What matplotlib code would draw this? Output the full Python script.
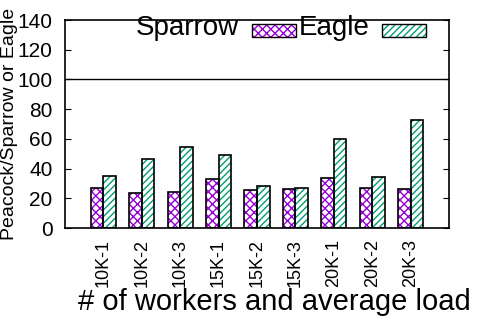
import matplotlib
matplotlib.use("Agg")
import matplotlib.pyplot as plt
import numpy as np
from matplotlib.patches import Rectangle
from matplotlib.legend_handler import HandlerBase

plt.rcParams['font.family'] = ['Liberation Sans', 'DejaVu Sans']
plt.rcParams['hatch.linewidth'] = 1.0

labels = ["10K-1", "10K-2", "10K-3", "15K-1", "15K-2", "15K-3", "20K-1", "20K-2", "20K-3"]
sparrow = [26.9, 23.5, 24.2, 33.0, 25.6, 26.2, 33.6, 26.9, 26.2]
eagle = [35.0, 46.4, 54.5, 49.1, 28.3, 26.9, 59.9, 34.3, 72.7]

purple = "#9400d3"
green = "#009e73"


class SwatchHandler(HandlerBase):
    # gnuplot-like key sample: hatched box sitting low, near the baseline
    def create_artists(self, legend, orig_handle, xdescent, ydescent,
                       width, height, fontsize, trans):
        hatch, color = orig_handle
        y0 = -ydescent - 4
        r1 = Rectangle((-xdescent, y0), width, height, facecolor="none",
                       edgecolor=color, hatch=hatch, linewidth=0, transform=trans)
        r2 = Rectangle((-xdescent, y0), width, height, facecolor="none",
                       edgecolor="black", linewidth=1, transform=trans)
        return [r1, r2]


fig = plt.figure(figsize=(4.8, 3.2), dpi=100)
ax = fig.add_axes([65/480, 1-228/320, 384/480, 208/320])

x = np.arange(len(labels))
w = 0.33
# hatched fill, then black outline on top
ax.bar(x - w/2, sparrow, w, color="none", edgecolor=purple, hatch="xxxx", linewidth=0)
ax.bar(x - w/2, sparrow, w, color="none", edgecolor="black", linewidth=1.2)
ax.bar(x + w/2, eagle, w, color="none", edgecolor=green, hatch="/////", linewidth=0)
ax.bar(x + w/2, eagle, w, color="none", edgecolor="black", linewidth=1.2)

ax.axhline(100, color="black", linewidth=1)

ax.set_xlim(-1, 9)
ax.set_ylim(0, 140)
ax.set_yticks(range(0, 141, 20))
ax.set_xticks(x)
ax.set_xticklabels(labels, rotation=90, fontsize=13)
ax.tick_params(axis="x", length=0, pad=8)
ax.tick_params(axis="y", direction="in", length=4, right=True, labelsize=15, pad=9)
for s in ax.spines.values():
    s.set_linewidth(1.2)

fig.text(10/480, 1-124/320, "Peacock/Sparrow or Eagle", rotation=90,
         ha="center", va="center", fontsize=14)
fig.text(274/480, 1-310/320, "# of workers and average load",
         ha="center", va="baseline", fontsize=21)

fig.legend([("xxxx", purple), ("/////", green)], ["Sparrow", "Eagle"], ncol=2,
           markerfirst=False, frameon=False, fontsize=20, handlelength=1.58,
           handleheight=0.3, handletextpad=0.47, columnspacing=0.1, borderpad=0,
           loc="center", bbox_to_anchor=(281/480, 1-28/320),
           handler_map={tuple: SwatchHandler()})

fig.savefig("out.png", dpi=100)
